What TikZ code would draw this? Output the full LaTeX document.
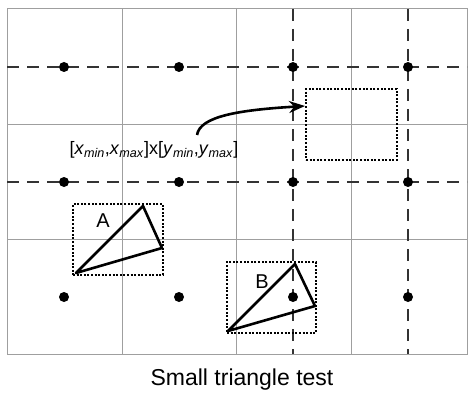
\documentclass[tikz,border=0pt]{standalone}
\usepackage{fontspec}
\setmainfont{Liberation Sans}
\usetikzlibrary{arrows.meta}

\tikzset{
  gridline/.style={gray!75,line width=1pt},
  cellmid/.style={black!80,line width=1.1pt,dash pattern=on 12pt off 8pt},
  sample/.style={circle,fill=black,inner sep=0pt,minimum size=10pt},
  bbox/.style={draw,line width=2pt,dash pattern=on 2pt off 1.6pt,inner sep=0pt},
  tri/.style={line width=2.6pt,line join=round},
  lbl/.style={font=\fontsize{20}{20}\selectfont,inner sep=0pt}
}

\begin{document}
\begin{tikzpicture}[x=1pt,y=-1pt]
  \useasboundingbox (0,0) rectangle (476,401);

  % cells
  \draw[gridline] (7,9) rectangle (467,354);
  \foreach \x in {122,236,351}
    \draw[gridline] (\x,9) -- (\x,354);
  \foreach \y in {124,239}
    \draw[gridline] (7,\y) -- (467,\y);

  % dashed lines through the samples
  \draw[cellmid] (7,67) -- (467,67);
  \draw[cellmid] (7,182) -- (467,182);
  \draw[cellmid] (293,9) -- (293,354);
  \draw[cellmid] (408,9) -- (408,354);

  % sample points
  \foreach \x in {64,179,293,408}
    \foreach \y in {67,182,297}
      \node[sample] at (\x,\y) {};

  % range box
  \node[bbox,minimum width=91pt,minimum height=71pt] (range) at (351.5,124.5) {};
  \node[font=\fontsize{18}{18}\selectfont,inner sep=0pt] (rangelabel) at (154,150)
    {[\textit{x}\textsubscript{\textit{min}},\textit{x}\textsubscript{\textit{max}}]x[\textit{y}\textsubscript{\textit{min}},\textit{y}\textsubscript{\textit{max}}]};
  \coordinate (arrowstart) at (197,135);
  \coordinate (arrowend) at (305,106);
  \draw[line width=2.6pt,-{Stealth[length=16pt,width=12pt]}] (arrowstart)
    .. controls (200,116) and (240,110) .. (arrowend);

  % triangle A
  \node[bbox,minimum width=90pt,minimum height=71pt] (boxA) at (118,239.5) {};
  \coordinate (a1) at (76,273);
  \coordinate (a2) at (143,206);
  \coordinate (a3) at (162,248);
  \draw[tri] (a1) -- (a2) -- (a3) -- cycle;
  \node[lbl] (labelA) at (103,221) {A};

  % triangle B
  \node[bbox,minimum width=89pt,minimum height=71pt] (boxB) at (271.5,297.5) {};
  \coordinate (b1) at (228,331);
  \coordinate (b2) at (295,264);
  \coordinate (b3) at (315,306);
  \draw[tri] (b1) -- (b2) -- (b3) -- cycle;
  \node[lbl] (labelB) at (262,282) {B};

  % caption
  \node[font=\fontsize{23}{23}\selectfont,inner sep=0pt] (caption) at (242,380) {Small triangle test};
\end{tikzpicture}
\end{document}
